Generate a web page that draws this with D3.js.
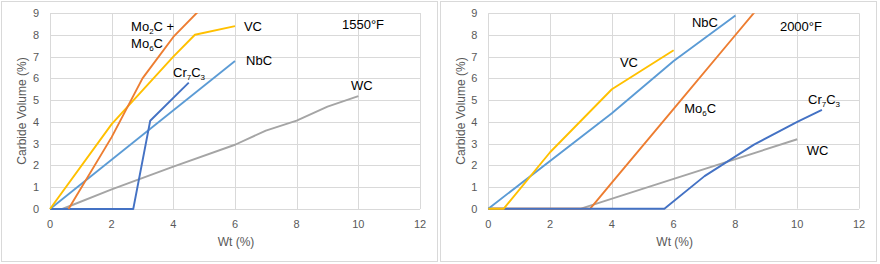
<!DOCTYPE html>
<html>
<head>
<meta charset="utf-8">
<script src="https://cdn.jsdelivr.net/npm/d3@7"></script>
<style>
  body { margin: 0; background: #fff; }
  svg { display: block; font-family: "Liberation Sans", Arial, sans-serif; }
</style>
</head>
<body>
<svg id="chart" width="880" height="264"></svg>
<script>
// ---- data (Wt %, Carbide Volume %) ----
const xTicks = [0, 2, 4, 6, 8, 10, 12];
const yTicks = [0, 1, 2, 3, 4, 5, 6, 7, 8, 9];

// 1550°F
const moLow = [[0.6, 0], [2, 3.3], [3, 6.0], [4, 7.9], [5, 9.35]];
const vcLow = [[0, 0], [2, 3.9], [4, 7.0], [4.7, 8.0], [6, 8.4]];
const nbcLow = [[0, 0], [6, 6.8]];
const crLow = [[0, 0], [2.7, 0], [3.25, 4.05], [4.5, 5.8]];
const wcLow = [[0.4, 0], [2, 0.9], [4, 1.95], [6, 2.95], [7, 3.6], [8, 4.06], [9, 4.7], [10, 5.18]];

// 2000°F
const vcHigh = [[0, 0], [0.5, 0], [2, 2.6], [4, 5.5], [6, 7.3]];
const nbcHigh = [[0, 0], [4, 4.4], [6, 6.8], [8, 8.9]];
const moHigh = [[0, 0], [3.3, 0], [4, 1.2], [6, 4.6], [8, 8.0], [9, 9.7]];
const wcHigh = [[0, 0], [3.0, 0], [6, 1.37], [10, 3.2]];
const crHigh = [[0, 0], [5.7, 0], [7, 1.5], [8.6, 2.95], [10, 4.0], [10.8, 4.55]];

// labels: text ("_n" = subscript), position in data units
const labelsLow = [
  ["Mo_2C +", 2.63, 8.17], ["Mo_6C", 2.63, 7.39], ["VC", 6.29, 8.17], ["1550°F", 9.47, 8.26],
  ["NbC", 6.36, 6.61], ["Cr_7C_3", 3.99, 6.06], ["WC", 9.76, 5.46]
];
const labelsHigh = [
  ["NbC", 6.59, 8.37], ["2000°F", 9.44, 8.19], ["VC", 4.26, 6.53], ["Mo_6C", 6.34, 4.41],
  ["Cr_7C_3", 10.35, 4.82], ["WC", 10.31, 2.47]
];

const colors = { wc: "#a5a5a5", cr: "#4472c4", nbc: "#5b9bd5", vc: "#ffc000", mo: "#ed7d31" };

const panels = [
  { left: 0, x0: 50, x1: 420, y0: 209, y1: 13,
    series: [["wc", wcLow], ["nbc", nbcLow], ["cr", crLow], ["vc", vcLow], ["mo", moLow]],
    labels: labelsLow },
  { left: 439, x0: 488.3, x1: 859, y0: 208.7, y1: 13.3,
    series: [["wc", wcHigh], ["mo", moHigh], ["cr", crHigh], ["nbc", nbcHigh], ["vc", vcHigh]],
    labels: labelsHigh }
];

const svg = d3.select("#chart");

panels.forEach((p, i) => {
  const g = svg.append("g");
  // frame
  g.append("rect")
    .attr("x", p.left + 1.5).attr("y", 1.5)
    .attr("width", 436).attr("height", 260)
    .attr("fill", "#fff").attr("stroke", "#d9d9d9");

  const x = d3.scaleLinear().domain([0, 12]).range([p.x0, p.x1]);
  const y = d3.scaleLinear().domain([0, 9]).range([p.y0, p.y1]);

  // grid
  g.append("g").selectAll("line").data(xTicks).join("line")
    .attr("x1", d => Math.round(x(d)) + 0.5).attr("x2", d => Math.round(x(d)) + 0.5)
    .attr("y1", y(0)).attr("y2", y(9))
    .attr("stroke", "#d9d9d9");
  g.append("g").selectAll("line").data(yTicks).join("line")
    .attr("x1", x(0)).attr("x2", x(12))
    .attr("y1", d => Math.round(y(d)) + 0.5).attr("y2", d => Math.round(y(d)) + 0.5)
    .attr("stroke", "#d9d9d9");

  // tick labels
  g.append("g").selectAll("text").data(xTicks).join("text")
    .attr("x", d => x(d)).attr("y", p.y0 + 19)
    .attr("text-anchor", "middle").attr("font-size", 11).attr("fill", "#595959")
    .text(d => d);
  g.append("g").selectAll("text").data(yTicks).join("text")
    .attr("x", p.x0 - 11).attr("y", d => y(d) + 4)
    .attr("text-anchor", "end").attr("font-size", 11).attr("fill", "#595959")
    .text(d => d);

  // axis titles
  g.append("text")
    .attr("x", (p.x0 + p.x1) / 2 + 1).attr("y", 246)
    .attr("text-anchor", "middle").attr("font-size", 12).attr("fill", "#595959")
    .text("Wt (%)");
  g.append("text")
    .attr("transform", `translate(${p.left + 26},111) rotate(-90)`)
    .attr("text-anchor", "middle").attr("font-size", 12).attr("fill", "#595959")
    .text("Carbide Volume (%)");

  // clip
  const clipId = "clip" + i;
  svg.append("clipPath").attr("id", clipId)
    .append("rect").attr("x", p.x0 - 3).attr("y", p.y1).attr("width", p.x1 - p.x0 + 6).attr("height", p.y0 - p.y1 + 3);

  const line = d3.line().x(d => x(d[0])).y(d => y(d[1]));
  g.append("g").attr("clip-path", `url(#${clipId})`)
    .selectAll("path").data(p.series).join("path")
    .attr("d", d => line(d[1]))
    .attr("fill", "none")
    .attr("stroke", d => colors[d[0]])
    .attr("stroke-width", 1.9)
    .attr("stroke-linejoin", "round");

  // labels with subscripts
  p.labels.forEach(([txt, lx, ly]) => {
    const t = g.append("text")
      .attr("x", x(lx)).attr("y", y(ly))
      .attr("font-size", 13).attr("fill", "#000");
    const parts = txt.split(/(_\d)/).filter(s => s.length);
    parts.forEach(s => {
      if (s[0] === "_") {
        t.append("tspan").attr("font-size", 8).attr("dy", 3).text(s[1]);
      } else {
        const ts = t.append("tspan").text(s);
        if (t.selectAll("tspan").size() > 1) ts.attr("dy", -3);
      }
    });
  });
});
</script>
</body>
</html>
